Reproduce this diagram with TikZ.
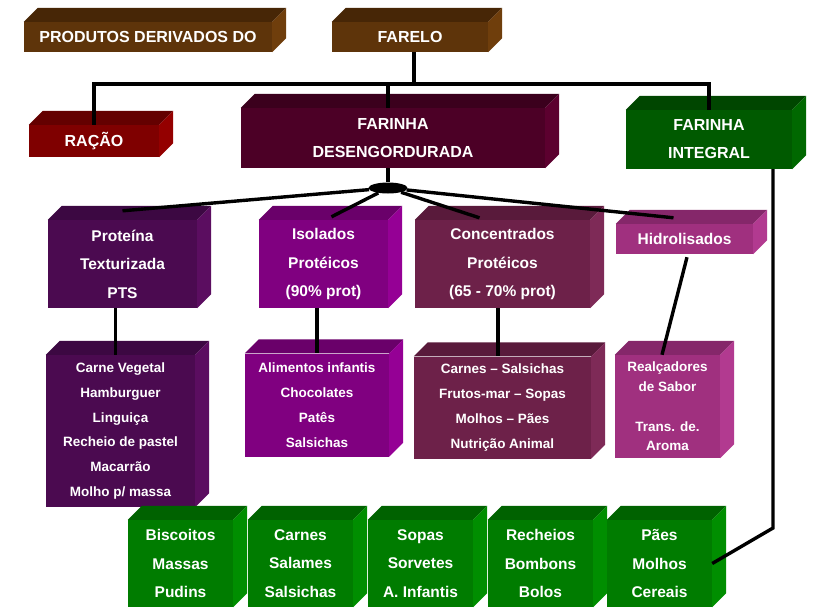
\documentclass[tikz,border=0pt]{standalone}
\usepackage{fontspec}
\setmainfont{Liberation Sans}
\usetikzlibrary{shapes.geometric}

% cores: F = frente, T = topo, L = lado
\definecolor{marromF}{HTML}{5E340A}
\definecolor{marromT}{HTML}{472606}
\definecolor{marromL}{HTML}{6F3E0C}
\definecolor{vermelhoF}{HTML}{7F0000}
\definecolor{vermelhoT}{HTML}{640000}
\definecolor{vermelhoL}{HTML}{940000}
\definecolor{vinhoF}{HTML}{4C0026}
\definecolor{vinhoT}{HTML}{3B001D}
\definecolor{vinhoL}{HTML}{5C002F}
\definecolor{verdeescF}{HTML}{005A00}
\definecolor{verdeescT}{HTML}{004600}
\definecolor{verdeescL}{HTML}{006800}
\definecolor{roxoescF}{HTML}{4B0A50}
\definecolor{roxoescT}{HTML}{3C0842}
\definecolor{roxoescL}{HTML}{5B0D60}
\definecolor{roxoF}{HTML}{800080}
\definecolor{roxoT}{HTML}{6A006A}
\definecolor{roxoL}{HTML}{950095}
\definecolor{ameixaF}{HTML}{6D2149}
\definecolor{ameixaT}{HTML}{591A3B}
\definecolor{ameixaL}{HTML}{7E2A57}
\definecolor{magentaF}{HTML}{A0307F}
\definecolor{magentaT}{HTML}{85276A}
\definecolor{magentaL}{HTML}{B23A90}
\definecolor{verdeF}{HTML}{007C00}
\definecolor{verdeT}{HTML}{006200}
\definecolor{verdeL}{HTML}{008E00}

\tikzset{
  bloco/.style={rectangle, fill=#1F, text=white, inner sep=0pt, align=center,
    append after command={\pgfextra{\begin{pgfinterruptpath}
      \fill[#1T] (\tikzlastnode.north west) -- ++(14,-14)
        -- ([shift={(14,-14)}]\tikzlastnode.north east) -- (\tikzlastnode.north east) -- cycle;
      \fill[#1L] (\tikzlastnode.north east) -- ++(14,-14)
        -- ([shift={(14,-14)}]\tikzlastnode.south east) -- (\tikzlastnode.south east) -- cycle;
    \end{pgfinterruptpath}}}},
  tam/.style 2 args={minimum width=#1, minimum height=#2},
  grande/.style={font=\bfseries\fontsize{16}{28}\selectfont},
  medio/.style={font=\bfseries\fontsize{15.5}{28.4}\selectfont},
  pequeno/.style={font=\bfseries\fontsize{13.5}{24.8}\selectfont},
  elipse/.style={ellipse, fill=black, inner sep=0pt, minimum width=39, minimum height=11},
  liga/.style={line width=3.4},
}

\begin{document}
\begin{tikzpicture}[x=1pt, y=-1pt]
  \useasboundingbox (0,0) rectangle (816,613);

  % nivel 1
  \node[bloco=marrom, tam={248}{30}, grande] (prod) at (148,37) {PRODUTOS DERIVADOS DO};
  \node[bloco=marrom, tam={156}{30}, grande] (farelo) at (410,37) {FARELO};

  % nivel 2
  \node[bloco=vermelho, tam={130}{32}, grande] (racao) at (94,141) {RAÇÃO};
  \node[bloco=vinho, tam={304}{60}, grande] (fdes) at (393,138) {FARINHA\\DESENGORDURADA};
  \node[bloco=verdeesc, tam={166}{59}, grande] (fint) at (709,139.5) {FARINHA\\INTEGRAL};

  % nivel 3
  \node[bloco=roxoesc, tam={149}{88}, medio] (prot) at (122.5,264) {Proteína\\Texturizada\\PTS};
  \node[bloco=roxo, tam={129}{88}, medio] (iso) at (323.5,264) {Isolados\\Protéicos\\(90\% prot)};
  \node[bloco=ameixa, tam={175}{88}, medio] (conc) at (502.5,264) {Concentrados\\Protéicos\\(65 - 70\% prot)};
  \node[bloco=magenta, tam={137}{30}, medio] (hidro) at (684.5,239) {Hidrolisados};

  % nivel 4
  \node[bloco=roxoesc, tam={149}{152}, pequeno] (cv) at (120.5,431)
    {Carne Vegetal\\Hamburguer\\Linguiça\\Recheio de pastel\\Macarrão\\Molho p/ massa};
  \node[bloco=roxo, tam={144}{103}, pequeno] (alim) at (317,405)
    {Alimentos infantis\\Chocolates\\Patês\\Salsichas};
  \node[bloco=ameixa, tam={177}{102}, pequeno] (carn) at (502.5,407.5)
    {Carnes – Salsichas\\Frutos-mar – Sopas\\Molhos – Pães\\Nutrição Animal};
  \node[bloco=magenta, tam={105}{103}, pequeno, font=\bfseries\fontsize{13.5}{19.7}\selectfont] (real) at (667.5,406.5)
    {Realçadores\\de Sabor\\[19.7pt]Trans. de.\\Aroma};

  % farinha integral
  \node[bloco=verde, tam={105}{87}, medio] (g1) at (180.5,563.5) {Biscoitos\\Massas\\Pudins};
  \node[bloco=verde, tam={105}{87}, medio] (g2) at (300.5,563.5) {Carnes\\Salames\\Salsichas};
  \node[bloco=verde, tam={105}{87}, medio] (g3) at (420.5,563.5) {Sopas\\Sorvetes\\A. Infantis};
  \node[bloco=verde, tam={105}{87}, medio] (g4) at (540.5,563.5) {Recheios\\Bombons\\Bolos};
  \node[bloco=verde, tam={105}{87}, medio] (g5) at (659.5,563.5) {Pães\\Molhos\\Cereais};

  % ligacoes
  \coordinate (barra) at (414,84);
  \coordinate (canto) at (773,528);
  \node[elipse] (no) at (388,188) {};
  \draw[liga] ([xshift=4]farelo.south) -- (barra);
  \draw[liga] (racao.north) -- (racao.north |- barra) -- (fint.north |- barra) -- (fint.north);
  \draw[liga] ([xshift=-5]fdes.north |- barra) -- ([xshift=-5]fdes.north);
  \draw[liga] ([xshift=-5]fdes.south) -- (no);
  \draw[liga] (no) -- ([yshift=9]prot.north);
  \draw[liga] (no) -- ([xshift=8,yshift=3]iso.north);
  \draw[liga] (no) -- ([xshift=-23,yshift=2]conc.north);
  \draw[liga] (no) -- ([xshift=-11,yshift=6]hidro.north);
  \draw[liga] ([xshift=-7]prot.south) -- ([xshift=-5]cv.north);
  \draw[liga] ([xshift=-6.5]iso.south) -- (alim.north);
  \draw[liga] ([xshift=-4.5]conc.south) -- ([xshift=-4.5]carn.north);
  \draw[liga] ([xshift=2.5,yshift=-3]hidro.south) -- ([xshift=-5.5]real.north);
  \draw[liga] ([xshift=64]fint.south) -- (canto) -- (g5.east);
\end{tikzpicture}
\end{document}
